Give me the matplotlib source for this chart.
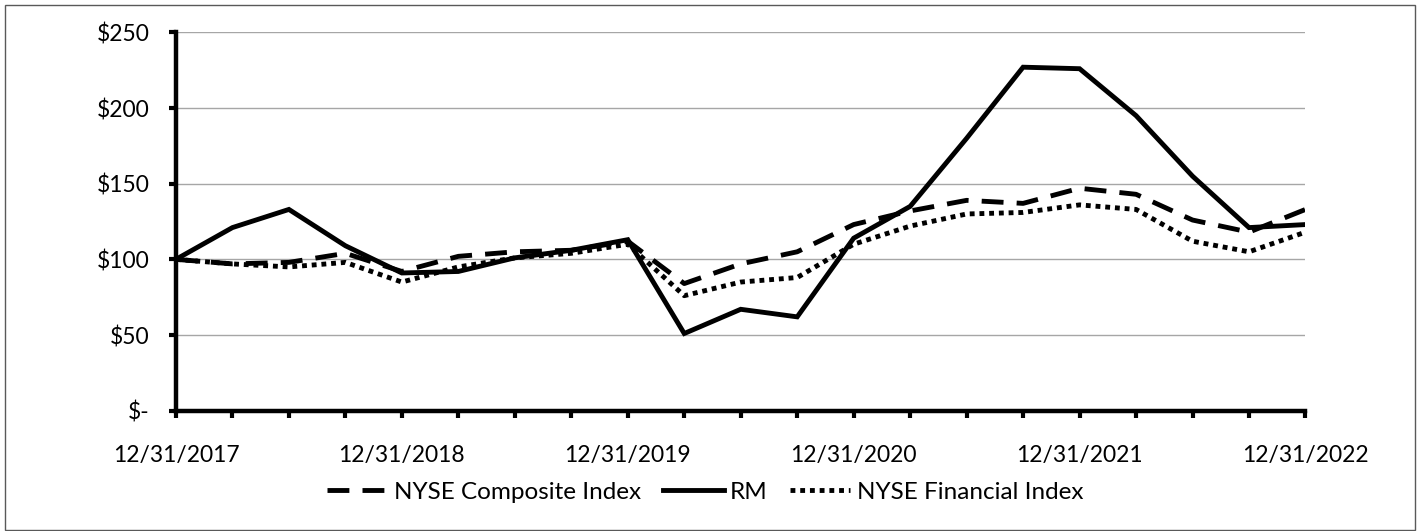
import matplotlib
matplotlib.use("Agg")
import matplotlib.pyplot as plt
from matplotlib.patches import Rectangle

plt.rcParams['font.family'] = ['Lato', 'DejaVu Sans']

quarters = list(range(21))
x_labels = ["12/31/2017", "12/31/2018", "12/31/2019", "12/31/2020", "12/31/2021", "12/31/2022"]
y_ticks = [0, 50, 100, 150, 200, 250]
y_labels = ["$-", "$50", "$100", "$150", "$200", "$250"]

nyse_composite = [100, 97, 98, 104, 92, 102, 105, 106, 112, 84, 97, 105, 123, 132, 139, 137, 147, 143, 126, 118, 133]
rm = [100, 121, 133, 109, 91, 92, 101, 106, 113, 51, 67, 62, 114, 135, 180, 227, 226, 195, 155, 121, 123]
nyse_financial = [100, 97, 95, 98, 85, 95, 101, 104, 110, 76, 85, 88, 110, 122, 130, 131, 136, 133, 112, 105, 118]

fig = plt.figure(figsize=(14.19, 5.31), dpi=100)
ax = fig.add_axes([0.124, 0.2266, 0.796, 0.7124])

LW = 3.5
ax.plot(quarters, nyse_composite, color='black', lw=LW, dashes=(4.5, 2.7),
        dash_capstyle='butt', label='NYSE Composite Index', zorder=3)
ax.plot(quarters, rm, color='black', lw=LW, solid_joinstyle='miter', label='RM', zorder=3)
ax.plot(quarters, nyse_financial, color='black', lw=LW, dashes=(1.0, 1.0),
        dash_capstyle='butt', label='NYSE Financial Index', zorder=3)

ax.set_xlim(0, 20)
ax.set_ylim(0, 250)
ax.set_yticks(y_ticks)
ax.set_yticklabels(y_labels)
ax.set_xticks(quarters)
ax.set_xticklabels([x_labels[i // 4] if i % 4 == 0 else "" for i in quarters])

ax.yaxis.grid(True, color='#a6a6a6', lw=1.0)
ax.set_axisbelow(True)
for s in ['top', 'right']:
    ax.spines[s].set_visible(False)
for s in ['left', 'bottom']:
    ax.spines[s].set_linewidth(3.2)
    ax.spines[s].set_color('black')
    ax.spines[s].set_capstyle('projecting')

ax.tick_params(axis='x', direction='out', length=5, width=3, pad=20, labelsize=16.5)
ax.tick_params(axis='y', direction='out', length=5, width=3, pad=14, labelsize=16.5)

leg = fig.legend(loc='center', bbox_to_anchor=(0.497, 0.073), ncol=3, frameon=False,
                 fontsize=17.5, handlelength=2.5, handletextpad=0.25, columnspacing=0.9)

fig.patches.append(Rectangle((5 / 1419, 0.002), 1410 / 1419, 1 - 5 / 531 - 0.002,
                             transform=fig.transFigure, fill=False,
                             edgecolor='#595959', lw=1.0))

fig.savefig('out.png', dpi=100)
